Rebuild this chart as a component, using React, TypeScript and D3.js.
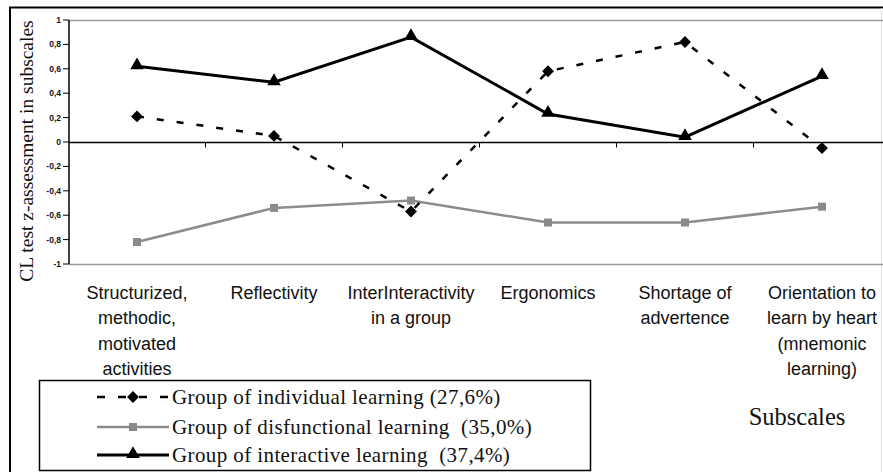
import React, { useEffect, useRef } from "react";
import * as d3 from "d3";

// categories (subscales), each label split into lines
const categories = [
    "Structurized, methodic, motivated activities",
    "Reflectivity",
    "InterInteractivity in a group",
    "Ergonomics",
    "Shortage of advertence",
    "Orientation to learn by heart (mnemonic learning)",
];
const categoryLines = [
    ["Structurized,", "methodic,", "motivated", "activities"],
    ["Reflectivity"],
    ["InterInteractivity", "in a group"],
    ["Ergonomics"],
    ["Shortage of", "advertence"],
    ["Orientation to", "learn by heart", "(mnemonic", "learning)"],
];

// z-assessment values per group
const individual = [0.21, 0.05, -0.57, 0.58, 0.82, -0.05];
const disfunctional = [-0.82, -0.54, -0.48, -0.66, -0.66, -0.53];
const interactive = [0.62, 0.49, 0.86, 0.23, 0.04, 0.54];

const yTicks = [-1, -0.8, -0.6, -0.4, -0.2, 0, 0.2, 0.4, 0.6, 0.8, 1];

const legendLabels = [
    "Group of individual learning (27,6%)",
    "Group of disfunctional learning  (35,0%)",
    "Group of interactive learning  (37,4%)",
];

const W = 883;
const H = 472;

function Chart() {
    const ref = useRef<SVGSVGElement | null>(null);

    useEffect(() => {
        const svg = d3.select(ref.current);
        svg.selectAll("*").remove();

        const plot = { left: 69, right: 891, top: 20, bottom: 264 };

        const x = d3.scaleBand<string>()
            .domain(categories)
            .range([plot.left - 0.5, plot.right - 0.5])
            .padding(0);
        const cx = (i: number) => (x(categories[i]) as number) + x.bandwidth() / 2;

        const y = d3.scaleLinear().domain([-1, 1]).range([plot.bottom, plot.top]);

        // outer frame (left and top; right edge is cut off)
        svg.append("path")
            .attr("d", `M10,${H + 5}V7.5H${W}`)
            .attr("fill", "none")
            .attr("stroke", "#000")
            .attr("stroke-width", 2);
        svg.append("line")
            .attr("x1", 881.5).attr("x2", 881.5).attr("y1", 8).attr("y2", H)
            .attr("stroke", "#e2e2e2").attr("stroke-width", 1);

        // plot area border (top and bottom, gray)
        [plot.top, plot.bottom].forEach((yy) => {
            svg.append("line")
                .attr("x1", plot.left).attr("x2", W)
                .attr("y1", yy + 0.5).attr("y2", yy + 0.5)
                .attr("stroke", "#9a9a9a").attr("stroke-width", 1.5);
        });

        // y axis
        const yAxis = svg.append("g").attr("transform", `translate(${plot.left},0)`);
        yAxis.append("line")
            .attr("x1", 0).attr("x2", 0)
            .attr("y1", plot.top).attr("y2", plot.bottom)
            .attr("stroke", "#000").attr("stroke-width", 1.5);
        yAxis.selectAll("line.tick")
            .data(yTicks)
            .enter()
            .append("line")
            .attr("class", "tick")
            .attr("x1", -6).attr("x2", 0)
            .attr("y1", (d) => y(d)).attr("y2", (d) => y(d))
            .attr("stroke", "#000").attr("stroke-width", 1);
        yAxis.selectAll("text")
            .data(yTicks)
            .enter()
            .append("text")
            .text((d) => String(d).replace(".", ","))
            .attr("x", -8)
            .attr("y", (d) => y(d))
            .attr("dy", "0.35em")
            .attr("text-anchor", "end")
            .attr("font-family", "Arial, 'Liberation Sans', sans-serif")
            .attr("font-size", "8.5px")
            .attr("font-weight", "bold")
            .attr("fill", "#111");

        // y axis title
        svg.append("text")
            .text("CL test z-assessment in subscales")
            .attr("transform", `translate(33,151) rotate(-90)`)
            .attr("text-anchor", "middle")
            .attr("font-family", "'Liberation Serif', 'Times New Roman', serif")
            .attr("font-size", "19.5px")
            .attr("fill", "#111");

        // x axis at zero
        const y0 = Math.round(y(0)) + 0.5;
        svg.append("line")
            .attr("x1", plot.left).attr("x2", W)
            .attr("y1", y0).attr("y2", y0)
            .attr("stroke", "#000").attr("stroke-width", 1.5);
        svg.selectAll("line.xtick")
            .data(categories.slice(1))
            .enter()
            .append("line")
            .attr("class", "xtick")
            .attr("x1", (d) => x(d) as number).attr("x2", (d) => x(d) as number)
            .attr("y1", y0).attr("y2", y0 + 5)
            .attr("stroke", "#000").attr("stroke-width", 1);

        // category labels
        const labels = svg.append("g")
            .attr("font-family", "Arial, 'Liberation Sans', sans-serif")
            .attr("font-size", "18px")
            .attr("fill", "#111")
            .attr("text-anchor", "middle");
        categoryLines.forEach((lines, i) => {
            const t = labels.append("text").attr("x", cx(i)).attr("y", 299);
            lines.forEach((ln, j) => {
                t.append("tspan").attr("x", cx(i)).attr("dy", j === 0 ? 0 : 25.3).text(ln);
            });
        });

        // series
        const line = d3.line<number>()
            .x((_, i) => cx(i))
            .y((d) => y(d));

        svg.append("path")
            .datum(disfunctional)
            .attr("d", line)
            .attr("fill", "none")
            .attr("stroke", "#8c8c8c")
            .attr("stroke-width", 2.5);
        svg.append("path")
            .datum(individual)
            .attr("d", line)
            .attr("fill", "none")
            .attr("stroke", "#000")
            .attr("stroke-width", 2.5)
            .attr("stroke-dasharray", "7 13");
        svg.append("path")
            .datum(interactive)
            .attr("d", line)
            .attr("fill", "none")
            .attr("stroke", "#000")
            .attr("stroke-width", 3);

        const diamond = d3.symbol(d3.symbolDiamond2, 90)();
        const square = d3.symbol(d3.symbolSquare, 64)();
        const triangle = d3.symbol(d3.symbolTriangle, 80)();

        svg.selectAll("path.sq")
            .data(disfunctional)
            .enter()
            .append("path")
            .attr("class", "sq")
            .attr("d", square)
            .attr("transform", (d, i) => `translate(${cx(i)},${y(d)})`)
            .attr("fill", "#8a8a8a");
        svg.selectAll("path.dm")
            .data(individual)
            .enter()
            .append("path")
            .attr("class", "dm")
            .attr("d", diamond)
            .attr("transform", (d, i) => `translate(${cx(i)},${y(d)})`)
            .attr("fill", "#000");
        svg.selectAll("path.tr")
            .data(interactive)
            .enter()
            .append("path")
            .attr("class", "tr")
            .attr("d", triangle)
            .attr("transform", (d, i) => `translate(${cx(i)},${y(d) - 1})`)
            .attr("fill", "#000");

        // legend
        const lg = svg.append("g");
        lg.append("rect")
            .attr("x", 39.5).attr("y", 380.5)
            .attr("width", 551).attr("height", 90)
            .attr("fill", "#fff")
            .attr("stroke", "#000")
            .attr("stroke-width", 1.5);
        const rows = [397, 427, 455];
        const styles = [
            { stroke: "#000", dash: "8 13", width: 2.5, sym: diamond, fill: "#000" },
            { stroke: "#8c8c8c", dash: null, width: 2.5, sym: square, fill: "#8a8a8a" },
            { stroke: "#000", dash: null, width: 3, sym: triangle, fill: "#000" },
        ];
        legendLabels.forEach((lab, i) => {
            const s = styles[i];
            const ln = lg.append("line")
                .attr("x1", 97).attr("x2", 169)
                .attr("y1", rows[i]).attr("y2", rows[i])
                .attr("stroke", s.stroke)
                .attr("stroke-width", s.width);
            if (s.dash) ln.attr("stroke-dasharray", s.dash);
            lg.append("path")
                .attr("d", s.sym)
                .attr("transform", `translate(133,${rows[i] - (i === 2 ? 1 : 0)})`)
                .attr("fill", s.fill);
            lg.append("text")
                .text(lab)
                .attr("x", 172)
                .attr("y", rows[i])
                .attr("dy", "0.33em")
                .attr("font-family", "'Liberation Serif', 'Times New Roman', serif")
                .attr("font-size", "21px")
                .attr("letter-spacing", "0.4px")
                .attr("fill", "#111")
                .style("white-space", "pre");
        });

        svg.append("text")
            .text("Subscales")
            .attr("x", 797)
            .attr("y", 425)
            .attr("text-anchor", "middle")
            .attr("font-family", "'Liberation Serif', 'Times New Roman', serif")
            .attr("font-size", "24.5px")
            .attr("fill", "#111");
    }, []);

    return (
        <svg
            ref={ref}
            width={W}
            height={H}
            style={{ position: "absolute", left: 0, top: 0, background: "#fff" }}
        />
    );
}

export default function App() {
    return <Chart />;
}
